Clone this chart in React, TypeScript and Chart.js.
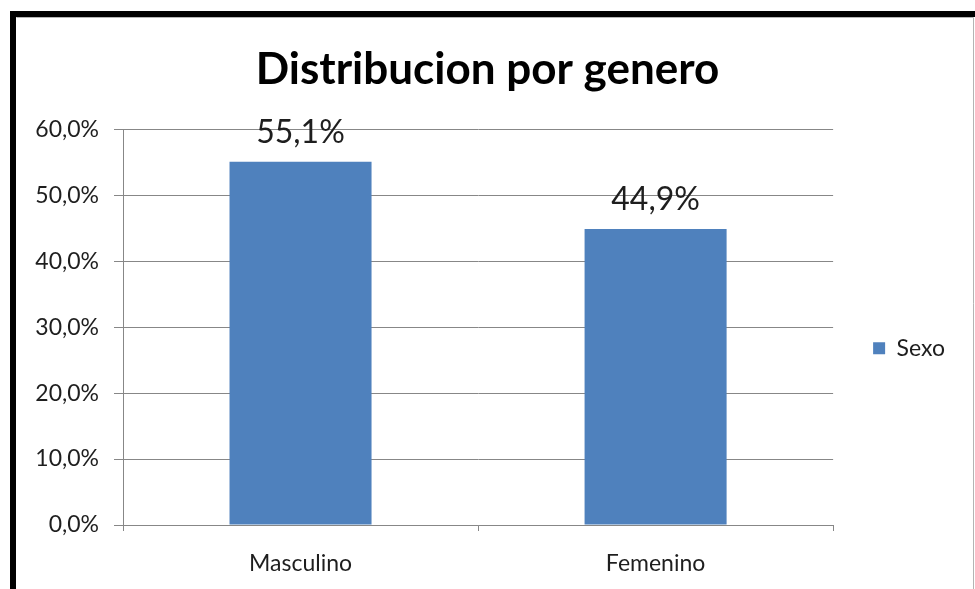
import React, { useEffect, useRef } from "react";
import { Chart, registerables } from "chart.js";

Chart.register(...registerables);

const chartTitle = "Distribucion por genero";
const categories = ["Masculino", "Femenino"];
const seriesName = "Sexo";
const seriesValues = [55.1, 44.9];
const yMin = 0;
const yMax = 60;
const yStep = 10;

const fmt = (v: number) => v.toFixed(1).replace(".", ",") + "%";

const FONT = "Lato, 'Open Sans', sans-serif";
const BAR = "#4F81BD";
const GRID = "#878787";
const TEXT = "#1e1e1e";

const framePlugin = {
  id: "frame",
  beforeDraw(chart: any) {
    const { ctx, width, height } = chart;
    ctx.save();
    ctx.fillStyle = "#ffffff";
    ctx.fillRect(0, 0, width, height);
    ctx.fillStyle = "#000000";
    ctx.fillRect(10, 11, width - 10, 6);
    ctx.fillRect(10, 11, 6, height - 11);
    ctx.strokeStyle = "#b4b4b4";
    ctx.lineWidth = 1;
    ctx.beginPath();
    ctx.moveTo(16.5, 17.5);
    ctx.lineTo(width - 1.5, 17.5);
    ctx.moveTo(width - 1.5, 17.5);
    ctx.lineTo(width - 1.5, height);
    ctx.stroke();
    ctx.restore();
  },
};

const legendShift = {
  id: "legendShift",
  afterLayout(chart: any) {
    const lg = chart.legend;
    if (!lg) return;
    const dy = 21;
    lg.top += dy;
    lg.bottom += dy;
  },
};

const valueLabels = {
  id: "valueLabels",
  afterDatasetsDraw(chart: any) {
    const { ctx } = chart;
    ctx.save();
    ctx.font = `32px ${FONT}`;
    ctx.fillStyle = TEXT;
    ctx.textAlign = "center";
    ctx.textBaseline = "alphabetic";
    chart.data.datasets.forEach((ds: any, di: number) => {
      const meta = chart.getDatasetMeta(di);
      meta.data.forEach((el: any, i: number) => {
        ctx.fillText(fmt(ds.data[i]), el.x, el.y - 19);
      });
    });
    ctx.restore();
  },
};

export default function App() {
  const ref = useRef<HTMLCanvasElement>(null);
  useEffect(() => {
    if (!ref.current) return;
    const chart = new Chart(ref.current, {
      type: "bar",
      data: {
        labels: categories,
        datasets: [
          {
            label: seriesName,
            data: seriesValues,
            backgroundColor: BAR,
            borderWidth: 0,
            categoryPercentage: 1,
            barPercentage: 0.4,
          },
        ],
      },
      options: {
        responsive: false,
        animation: false,
        devicePixelRatio: 1,
        layout: { padding: { left: 20, right: 20, top: 20, bottom: 0 } },
        plugins: {
          title: {
            display: true,
            text: chartTitle,
            color: "#000000",
            font: { family: FONT, size: 44, weight: "bold" },
            padding: { top: 23.6, bottom: 33 },
          },
          legend: {
            display: true,
            position: "right",
            fullSize: false,
            labels: {
              boxWidth: 12,
              boxHeight: 12,
              padding: 40,
              color: TEXT,
              font: { family: FONT, size: 23 },
            },
          },
          tooltip: { enabled: false },
        },
        scales: {
          x: {
            grid: {
              display: true,
              drawOnChartArea: false,
              drawTicks: true,
              tickLength: 6,
              color: GRID,
              offset: true,
            },
            border: { display: true, color: GRID, width: 1 },
            ticks: {
              color: TEXT,
              font: { family: FONT, size: 23 },
              padding: 19,
            },
            afterFit(scale: any) {
              scale.height = 64;
            },
          },
          y: {
            min: yMin,
            max: yMax,
            grid: {
              color: GRID,
              tickLength: 9,
              drawTicks: true,
            },
            border: { display: true, color: GRID, width: 1 },
            ticks: {
              stepSize: yStep,
              color: TEXT,
              font: { family: FONT, size: 23 },
              padding: 15,
              callback: (v: any) => fmt(Number(v)),
            },
            afterFit(scale: any) {
              scale.width = 103;
            },
          },
        },
      },
      plugins: [framePlugin, legendShift, valueLabels],
    });
    return () => chart.destroy();
  }, []);
  return (
    <div style={{ position: "absolute", left: 0, top: 0, width: 975, height: 589 }}>
      <canvas ref={ref} width={975} height={589} />
    </div>
  );
}
